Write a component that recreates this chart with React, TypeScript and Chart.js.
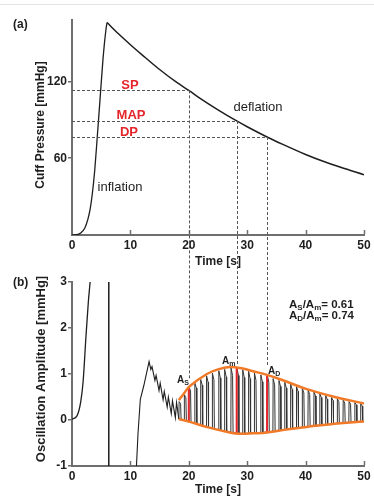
import React, { useEffect, useRef } from 'react';
import { Chart, registerables } from 'chart.js';
Chart.register(...registerables);

const W = 374;
const H = 502;
const FONT = "'Liberation Sans', Arial, sans-serif";
const INK = '#1e1e1e';
const AXIS = '#6e6e6e';
const RED = '#e4252b';
const ORANGE = '#f07a28';

// ---- panel (a): cuff pressure ----
const inflationT = [0, 1, 1.5, 2.2, 2.7, 3.1, 3.5, 3.9, 4.3, 4.8, 5.3, 5.8, 6.0];
const inflationP = [0, 0.5, 1.5, 5.5, 12, 20, 33, 51, 75, 106, 137, 160, 166];
const deflationT = [6, 8, 10, 12, 15, 18, 20, 22, 25, 28.2, 30, 33.4, 36, 40, 43, 46, 50];
const deflationP = [166, 157, 148.7, 140.8, 129.3, 119, 113, 106.6, 97.8, 89.1, 84.6, 76.6, 71, 62.9, 57.6, 52.9, 47.1];
const markerLabels = ['SP', 'MAP', 'DP'];
const markerTimes = [20, 28.2, 33.4];
const markerPressures = [113, 89.1, 76.6];
const markerAmpEnds = [0.9, 1.18, 1.17];
const pressureTicks = [60, 120];
const timeTicks = [0, 10, 20, 30, 40, 50];

// ---- panel (b): oscillation amplitude ----
const riseT = [0, 0.85, 1.5, 1.9, 2.4, 2.8, 3.1, 3.5];
const riseA = [0.02, 0.09, 0.4, 0.83, 1.83, 2.57, 3.0, 3.7];
const dropT = [6.3, 6.3];
const dropA = [3.5, -1.5];
const earlyT = [11.0, 11.3, 11.7, 12.3, 12.7, 13.2, 13.5, 13.7, 14.2, 14.4, 14.9, 15.1, 15.6, 15.8, 16.3, 16.5, 17.0, 17.2, 17.7, 17.9, 18.3];
const earlyA = [-1.1, -0.3, 0.45, 0.75, 0.98, 1.27, 1.1, 1.16, 0.86, 0.97, 0.64, 0.8, 0.44, 0.62, 0.28, 0.5, 0.14, 0.42, 0.05, 0.38, 0.02];
const beatTimes = [18.3, 19.2, 20.0, 21.0, 22.0, 23.0, 24.0, 25.1, 26.1, 27.2, 28.2, 29.2, 30.2, 31.2, 32.3, 33.4, 34.4, 35.4, 36.4, 37.4, 38.4, 39.4, 40.4, 41.4, 42.4, 43.4, 44.4, 45.4, 46.4, 47.4, 48.4, 49.4];
const beatPeaks = [0.40, 0.55, 0.72, 0.80, 0.88, 0.96, 1.02, 1.07, 1.10, 1.13, 1.14, 1.09, 1.06, 1.02, 0.98, 0.97, 0.90, 0.86, 0.82, 0.78, 0.73, 0.69, 0.65, 0.61, 0.57, 0.53, 0.49, 0.46, 0.43, 0.40, 0.38, 0.35];
const beatTroughs = [0.02, -0.01, -0.04, -0.08, -0.12, -0.16, -0.19, -0.22, -0.24, -0.26, -0.29, -0.29, -0.29, -0.28, -0.27, -0.26, -0.24, -0.22, -0.21, -0.19, -0.17, -0.16, -0.14, -0.13, -0.11, -0.10, -0.09, -0.07, -0.06, -0.05, -0.04, -0.04];
const highlightBeats = [2, 10, 15];
const upperEnvT = [18.3, 19.3, 20.2, 23.1, 25, 27, 28.8, 31, 33.4, 36, 40.2, 45, 50];
const upperEnvA = [0.43, 0.6, 0.74, 1.0, 1.1, 1.15, 1.13, 1.06, 0.98, 0.87, 0.67, 0.5, 0.36];
const lowerEnvT = [18.3, 20.2, 23, 27, 28.8, 31, 33.4, 37, 40.2, 45, 50];
const lowerEnvA = [0.02, -0.04, -0.15, -0.27, -0.3, -0.29, -0.27, -0.2, -0.15, -0.08, -0.03];
const ampTicks = [-1, 0, 1, 2, 3];
const ratioTexts = [['0.61', 'S'], ['0.74', 'D']];

const pts = (xs: number[], ys: number[]) => xs.map((x, i) => ({ x, y: ys[i] }));

function drawRich(ctx: CanvasRenderingContext2D, x: number, y: number, parts: [string, boolean][], size: number, color: string) {
  ctx.fillStyle = color;
  ctx.textAlign = 'left';
  ctx.textBaseline = 'middle';
  let cx = x;
  for (const [t, sub] of parts) {
    const s = sub ? Math.round(size * 0.7) : size;
    ctx.font = `bold ${s}px ${FONT}`;
    ctx.fillText(t, cx, sub ? y + size * 0.28 : y);
    cx += ctx.measureText(t).width;
  }
}

function text(ctx: CanvasRenderingContext2D, s: string, x: number, y: number, size: number, color = INK, bold = true, align: CanvasTextAlign = 'center') {
  ctx.font = `${bold ? 'bold ' : ''}${size}px ${FONT}`;
  ctx.fillStyle = color;
  ctx.textAlign = align;
  ctx.textBaseline = 'middle';
  ctx.fillText(s, x, y);
}

function vtext(ctx: CanvasRenderingContext2D, s: string, x: number, y: number, size: number) {
  ctx.save();
  ctx.translate(x, y);
  ctx.rotate(-Math.PI / 2);
  text(ctx, s, 0, 0, size);
  ctx.restore();
}

function xTickMarks(ctx: CanvasRenderingContext2D, chart: any) {
  const { x, y } = chart.scales;
  ctx.save();
  ctx.strokeStyle = AXIS;
  ctx.lineWidth = 1.5;
  timeTicks.forEach((t) => {
    if (t === 0) return;
    const px = Math.round(x.getPixelForValue(t)) + 0.5;
    ctx.beginPath();
    ctx.moveTo(px, y.bottom - 1);
    ctx.lineTo(px, y.bottom - 5);
    ctx.stroke();
  });
  ctx.restore();
}

const baseLine = { showLine: true, pointRadius: 0, fill: false, borderColor: INK };

export default function App() {
  const topRef = useRef<HTMLCanvasElement>(null);
  const botRef = useRef<HTMLCanvasElement>(null);

  useEffect(() => {
    const tickFont = { family: FONT, size: 12, weight: 'bold' as const };

    const topChart = new Chart(topRef.current!, {
      type: 'scatter',
      data: {
        datasets: [
          { ...baseLine, data: pts(inflationT, inflationP), borderWidth: 1.3, cubicInterpolationMode: 'monotone' },
          { ...baseLine, data: pts(deflationT, deflationP), borderWidth: 1.5, cubicInterpolationMode: 'monotone' },
        ] as any,
      },
      options: {
        responsive: false,
        animation: false,
        events: [],
        layout: { padding: { left: 0, top: 20, right: 10, bottom: 237 } },
        plugins: { legend: { display: false }, tooltip: { enabled: false } },
        scales: {
          x: {
            type: 'linear', min: 0, max: 50,
            afterFit: (s: any) => { s.height = 30; },
            afterBuildTicks: (s: any) => { s.ticks = timeTicks.map((v) => ({ value: v })); },
            ticks: { font: tickFont, color: INK, padding: 3, maxRotation: 0 },
            grid: { display: false, drawTicks: false },
            border: { display: true, color: AXIS, width: 2 },
          },
          y: {
            type: 'linear', min: 0, max: 168,
            afterFit: (s: any) => { s.width = 72; },
            afterBuildTicks: (s: any) => { s.ticks = pressureTicks.map((v) => ({ value: v })); },
            ticks: { font: tickFont, color: INK, padding: 1 },
            grid: { display: true, drawOnChartArea: false, drawTicks: true, tickLength: 4, color: AXIS, lineWidth: 1.5 },
            border: { display: true, color: AXIS, width: 2 },
          },
        },
      } as any,
      plugins: [{
        id: 'topDeco',
        afterDraw(chart: any) {
          const { ctx } = chart;
          const { x, y } = chart.scales;
          ctx.save();
          ctx.strokeStyle = '#e4e4e4';
          ctx.lineWidth = 1;
          ctx.beginPath(); ctx.moveTo(0, 4.5); ctx.lineTo(W, 4.5); ctx.stroke();
          ctx.strokeStyle = '#555';
          ctx.setLineDash([3, 2]);
          markerTimes.forEach((t, i) => {
            const py = Math.round(y.getPixelForValue(markerPressures[i])) + 0.5;
            ctx.beginPath();
            ctx.moveTo(x.left, py);
            ctx.lineTo(x.getPixelForValue(t), py);
            ctx.stroke();
          });
          ctx.setLineDash([]);
          ctx.restore();
          xTickMarks(ctx, chart);
          ctx.save();
          text(ctx, '(a)', 13, 25, 12, INK, true, 'left');
          const labelPos = [[130, 85], [131, 115], [129, 132]];
          markerLabels.forEach((l, i) => text(ctx, l, labelPos[i][0], labelPos[i][1], 13, RED, true));
          text(ctx, 'inflation', 120, 187, 13, INK, false);
          text(ctx, 'deflation', 258, 107, 13, INK, false);
          vtext(ctx, 'Cuff Pressure [mmHg]', 41, 125, 12);
          text(ctx, 'Time [s]', 218, 262, 12);
          ctx.restore();
        },
      }],
    });

    const wave: { x: number; y: number }[] = [];
    beatTimes.forEach((t, i) => {
      const p = beatPeaks[i];
      const q = beatTroughs[i];
      wave.push({ x: t, y: q }, { x: t + 0.04, y: p }, { x: t + 0.3, y: p - (p - q) * 0.12 }, { x: t + 0.38, y: q });
    });
    const highlights = highlightBeats.map((b) => ({
      ...baseLine, borderColor: RED, borderWidth: 2,
      data: [{ x: beatTimes[b], y: beatTroughs[b] }, { x: beatTimes[b], y: beatPeaks[b] }],
    }));

    const botChart = new Chart(botRef.current!, {
      type: 'scatter',
      data: {
        datasets: [
          { ...baseLine, borderColor: ORANGE, borderWidth: 2.5, tension: 0.4, data: pts(upperEnvT, upperEnvA) },
          { ...baseLine, borderColor: ORANGE, borderWidth: 2.5, tension: 0.4, data: pts(lowerEnvT, lowerEnvA) },
          ...highlights,
          { ...baseLine, borderWidth: 1, borderColor: '#333', data: wave },
          { ...baseLine, borderWidth: 1.1, data: pts(earlyT, earlyA) },
          { ...baseLine, borderWidth: 1.5, data: pts(dropT, dropA) },
          { ...baseLine, borderWidth: 1.3, cubicInterpolationMode: 'monotone', data: pts(riseT, riseA) },
        ] as any,
      },
      options: {
        responsive: false,
        animation: false,
        events: [],
        layout: { padding: { left: 0, top: 282, right: 10, bottom: 12 } },
        plugins: { legend: { display: false }, tooltip: { enabled: false } },
        scales: {
          x: {
            type: 'linear', min: 0, max: 50,
            afterFit: (s: any) => { s.height = 24; },
            afterBuildTicks: (s: any) => { s.ticks = timeTicks.map((v) => ({ value: v })); },
            ticks: { font: tickFont, color: INK, padding: 3, maxRotation: 0 },
            grid: { display: false, drawTicks: false },
            border: { display: true, color: AXIS, width: 2 },
          },
          y: {
            type: 'linear', min: -1, max: 3,
            afterFit: (s: any) => { s.width = 72; },
            afterBuildTicks: (s: any) => { s.ticks = ampTicks.map((v) => ({ value: v })); },
            ticks: { font: tickFont, color: INK, padding: 1 },
            grid: { display: true, drawOnChartArea: false, drawTicks: true, tickLength: 4, color: AXIS, lineWidth: 1.5 },
            border: { display: true, color: AXIS, width: 2 },
          },
        },
      } as any,
      plugins: [{
        id: 'botDeco',
        afterDraw(chart: any) {
          const { ctx } = chart;
          const { x, y } = chart.scales;
          const ty = topChart.scales.y;
          ctx.save();
          ctx.strokeStyle = '#555';
          ctx.lineWidth = 1;
          ctx.setLineDash([3, 2]);
          markerTimes.forEach((t, i) => {
            const px = Math.round(x.getPixelForValue(t)) + 0.5;
            ctx.beginPath();
            ctx.moveTo(px, ty.getPixelForValue(markerPressures[i]));
            ctx.lineTo(px, y.getPixelForValue(markerAmpEnds[i]));
            ctx.stroke();
          });
          ctx.setLineDash([]);
          ctx.restore();
          xTickMarks(ctx, chart);
          ctx.save();
          text(ctx, '(b)', 13, 283, 12, INK, true, 'left');
          vtext(ctx, 'Oscillation Amplitude [mmHg]', 41, 369, 13);
          text(ctx, 'Time [s]', 218, 490, 12);
          drawRich(ctx, 177, 380, [['A', false], ['S', true]], 10, INK);
          drawRich(ctx, 222, 361, [['A', false], ['m', true]], 10, INK);
          drawRich(ctx, 268, 371, [['A', false], ['D', true]], 10, INK);
          ratioTexts.forEach(([v, s], i) => {
            drawRich(ctx, 289, 305 + i * 11, [['A', false], [s, true], ['/A', false], ['m', true], ['= ' + v, false]], 11.5, INK);
          });
          ctx.restore();
        },
      }],
    });

    return () => { botChart.destroy(); topChart.destroy(); };
  }, []);

  const cv: React.CSSProperties = { position: 'absolute', left: 0, top: 0, width: W, height: H };
  return (
    <div style={{ position: 'fixed', left: 0, top: 0, width: W, height: H, background: '#fff' }}>
      <canvas ref={topRef} width={W} height={H} style={cv} />
      <canvas ref={botRef} width={W} height={H} style={cv} />
    </div>
  );
}
